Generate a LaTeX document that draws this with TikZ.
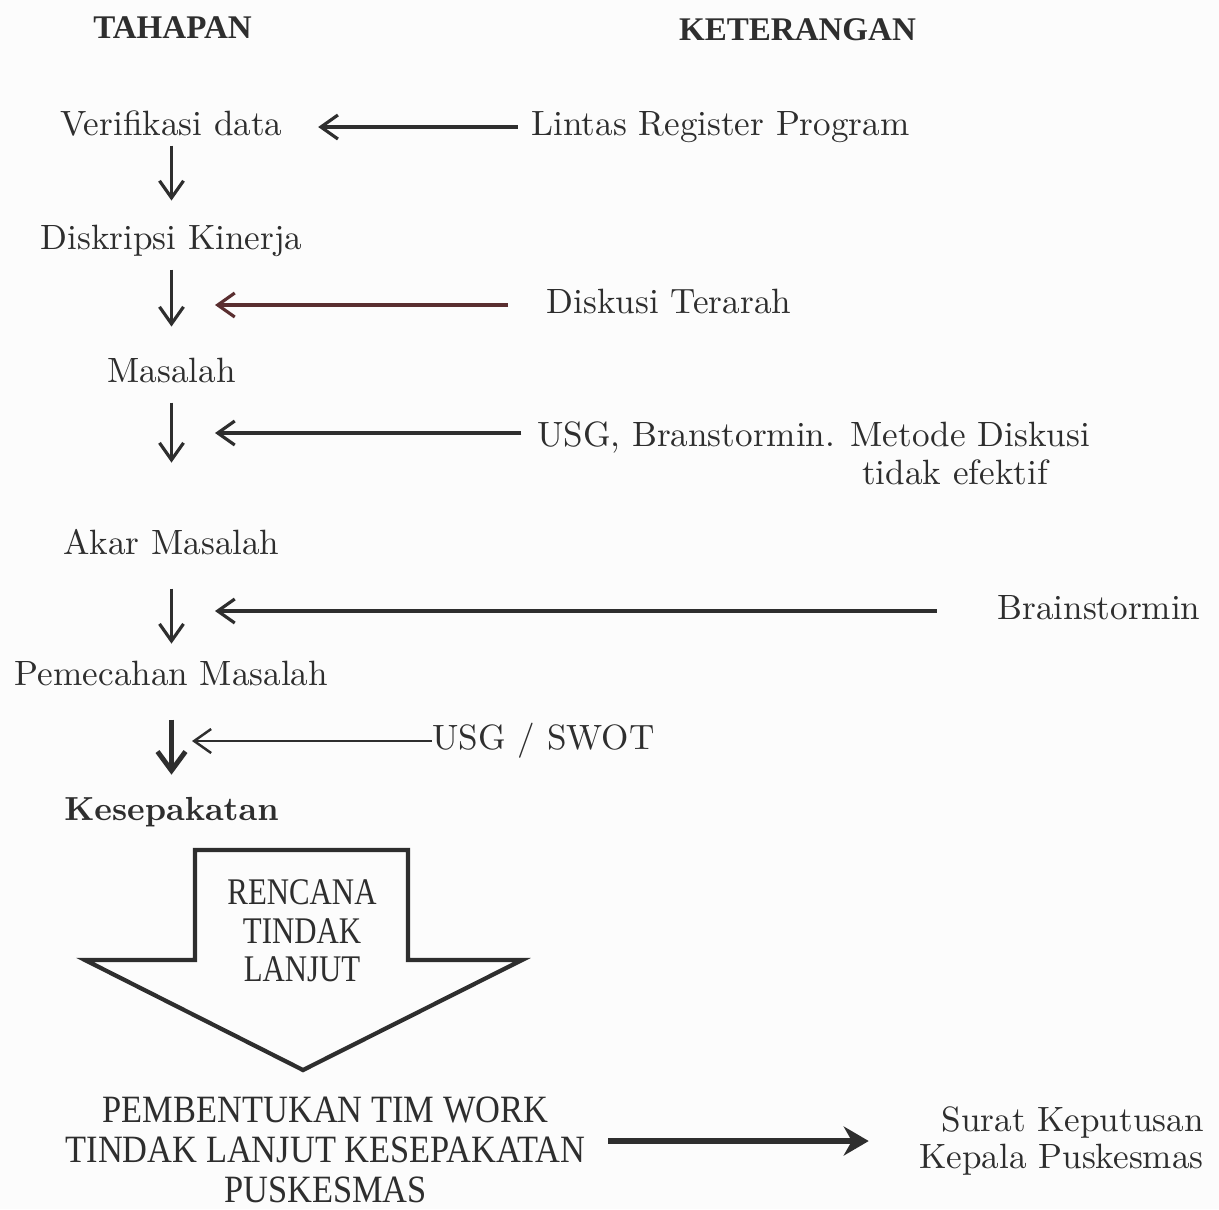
\documentclass[tikz,border=0pt]{standalone}
\usepackage{fontspec}
\newfontfamily\condfont{Liberation Serif}[FakeStretch=0.82]
\newfontfamily\bawahfont{Liberation Serif}[FakeStretch=0.89]
\newfontfamily\headfont{Liberation Serif}
\definecolor{tinta}{HTML}{2E2E2E}
\definecolor{tintaMerah}{HTML}{5A2E30}
\definecolor{kertas}{HTML}{FCFCFC}
\usetikzlibrary{positioning, arrows.meta}

\begin{document}
\begin{tikzpicture}[
    >={Straight Barb[length=1.7mm, width=2.4mm]},
    % --- Gaya teks dan panah ---
    teks/.style={inner sep=0pt, text height=7pt, text depth=2pt,
                 font=\fontsize{10}{12}\selectfont, text=tinta},
    tahap/.style={teks},
    judul/.style={inner sep=0pt, font=\headfont\bfseries\fontsize{9.4}{11}\selectfont, text=tinta},
    kapital/.style={inner sep=0pt, align=center, font=\condfont\fontsize{10.7}{11}\selectfont, text=tinta},
    alur/.style={->, draw=tinta, line width=0.9pt},
    masuk/.style={->, draw=tinta, line width=0.9pt},
    blok/.style={draw=tinta, line width=1.2pt, line join=miter}
]
\useasboundingbox[fill=kertas] (0,0) rectangle (12.19,-12.09);

% ====== JUDUL KOLOM ======
\node[judul] (tahapan) at (1.725,-0.28) {TAHAPAN};
\node[judul] (keterangan) at (7.975,-0.30) {KETERANGAN};

% ====== KOLOM TAHAPAN ======
\node[tahap] (verif) at (1.715,-1.27) {Verifikasi data};
\node[tahap] (diskripsi) [below=0.81cm of verif] {Diskripsi Kinerja};
\node[tahap] (masalah) [below=1.00cm of diskripsi] {Masalah};
\node[tahap] (akar) [below=1.39cm of masalah] {Akar Masalah};
\node[tahap] (pemecahan) [below=0.98cm of akar] {Pemecahan Masalah};
\node[tahap, font=\bfseries\fontsize{9.5}{12}\selectfont] (sepakat) [below=1.02cm of pemecahan] {Kesepakatan};

% ====== KOLOM KETERANGAN ======
\node[teks] (lintas) at (7.205,-1.27) {Lintas Register Program};
\node[teks] (diskusi) at (6.69,-3.05) {Diskusi Terarah};
\node[teks] (usg) at (8.135,-4.38) {USG, Branstormin. Metode Diskusi};
\node[teks] (efektif) at (9.55,-4.76) {tidak efektif};
\node[teks] (brain) at (10.99,-6.11) {Brainstormin};
\node[teks] (swot) at (5.435,-7.41) {USG / SWOT};

% Alur tahapan
\draw[alur, shorten <=0.02cm, shorten >=0.24cm] (verif.south) -- (diskripsi.north);
\draw[alur, shorten <=0.12cm, shorten >=0.31cm] (diskripsi.south) -- (masalah.north);
\draw[alur, shorten <=0.12cm, shorten >=0.67cm] (masalah.south) -- (akar.north);
\draw[alur, shorten <=0.26cm, shorten >=0.17cm] (akar.south) -- (pemecahan.north);
\draw[alur, line width=1.4pt, shorten <=0.26cm, shorten >=0.21cm,
      -{Straight Barb[length=1.9mm, width=2.8mm]}] (pemecahan.south) -- (sepakat.north);

% Masukan keterangan
\draw[masuk, shorten <=0.13cm, shorten >=0.35cm] (lintas.west) -- (verif.east);
\draw[masuk, draw=tintaMerah, shorten <=0.38cm, shorten >=0.435cm] (diskusi.west) -- (diskusi.west -| masalah);
\draw[masuk, shorten <=0.15cm, shorten >=0.435cm] ([yshift=0.05cm]usg.west) -- ([yshift=0.05cm]usg.west -| masalah);
\draw[masuk, shorten <=0.60cm, shorten >=0.435cm] (brain.west) -- (brain.west -| akar);
\draw[masuk, line width=0.7pt, shorten >=0.205cm] (swot.west) -- (swot.west -| pemecahan);

% ====== RENCANA TINDAK LANJUT ======
\draw[blok] (1.95,-8.50) -- (4.08,-8.50) -- (4.08,-9.60) -- (5.22,-9.60)
    -- (3.03,-10.70) -- (0.85,-9.60) -- (1.95,-9.60) -- cycle;
\node[kapital] (rtl) at (3.02,-9.31) {RENCANA\\TINDAK\\LANJUT};

\node[kapital, font=\bawahfont\fontsize{11}{11.4}\selectfont] (tim) at (3.255,-11.50)
    {PEMBENTUKAN TIM WORK\\TINDAK LANJUT KESEPAKATAN\\PUSKESMAS};
\node[inner sep=0pt, align=right, font=\fontsize{10}{10.8}\selectfont, text=tinta] (sk)
    at (10.615,-11.41) {Surat Keputusan\\Kepala Puskesmas};

\draw[draw=tinta, line width=1.7pt, -{Stealth[length=2.5mm, width=2.9mm]},
      shorten <=0.22cm, shorten >=0.50cm] (tim.east |- sk.west) -- (sk.west);

\end{tikzpicture}
\end{document}
